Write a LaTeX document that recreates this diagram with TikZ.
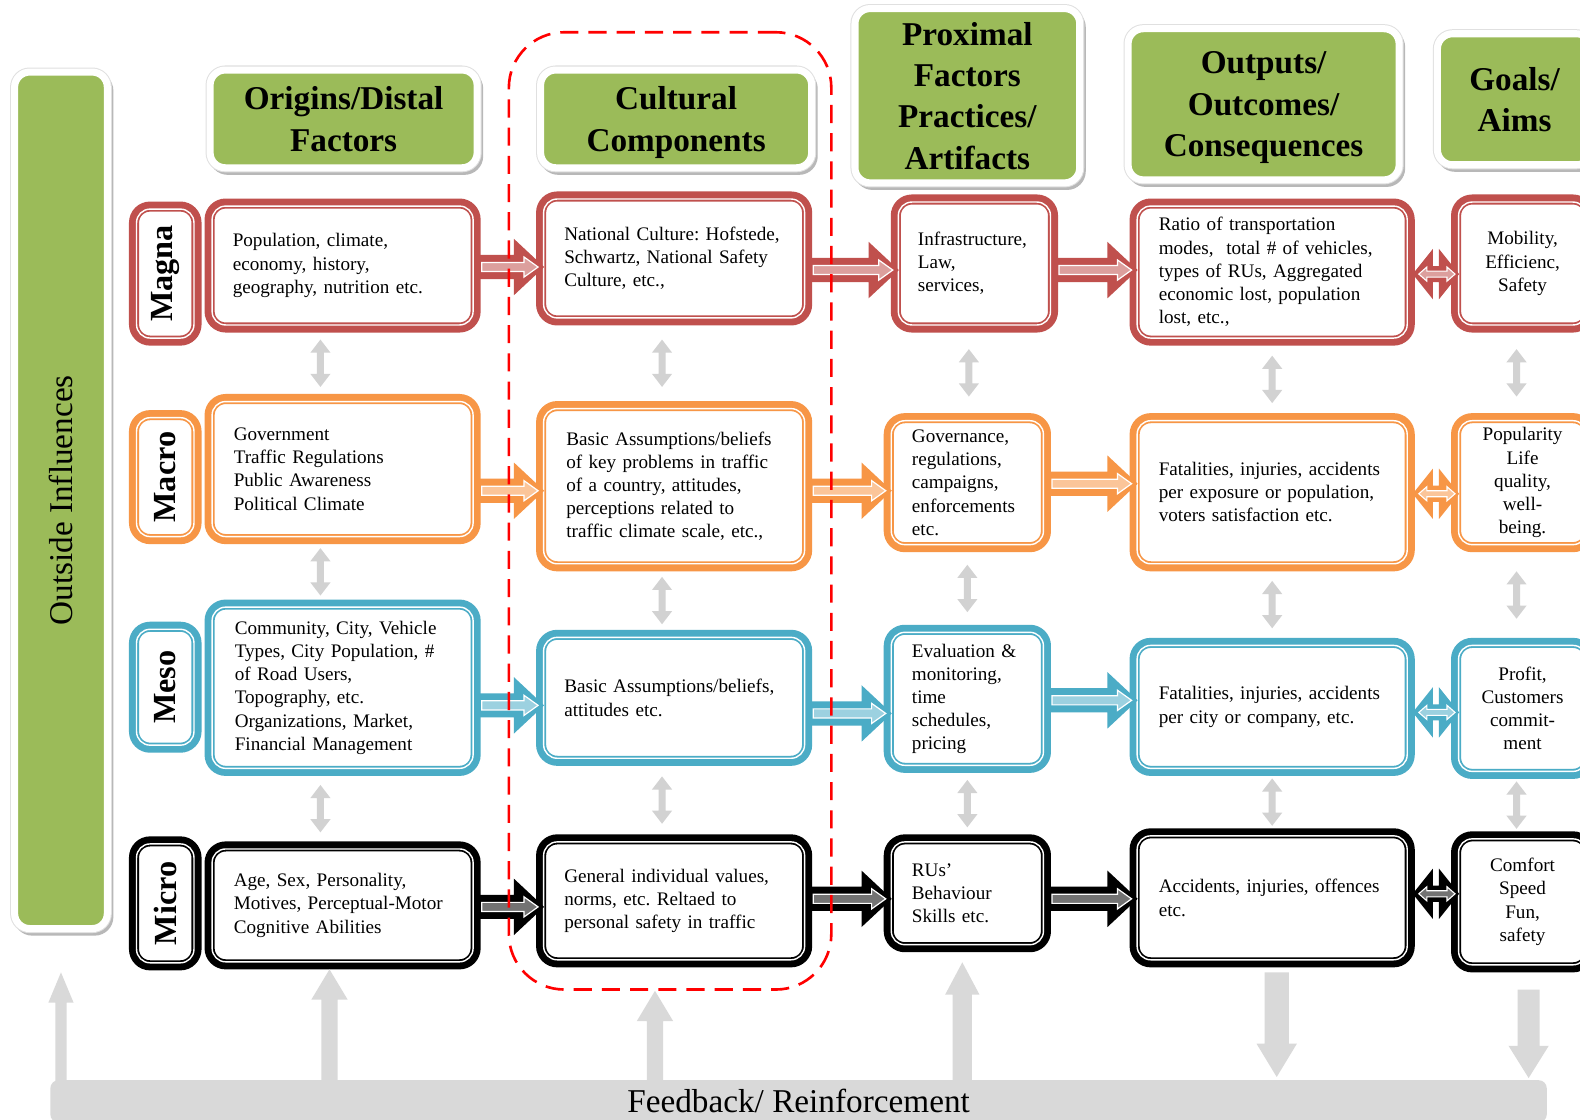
\documentclass[tikz,border=0pt]{standalone}
\usepackage{fontspec}
\usepackage{graphicx}
\setmainfont{Liberation Serif}
\usetikzlibrary{calc}
\frenchspacing

\definecolor{cred}{HTML}{C0504D}
\definecolor{corange}{HTML}{F79646}
\definecolor{cblue}{HTML}{4BACC6}
\definecolor{hgreen}{HTML}{9BBB59}
\definecolor{lgrey}{HTML}{D2D2D2}
\definecolor{fbgrey}{HTML}{D9D9D9}

\newcommand\cellfont{\fontsize{19}{23}\selectfont\frenchspacing}
\newcommand\headerfont{\fontsize{33}{41}\selectfont\bfseries}
\newcommand\levelfont{\fontsize{32}{36}\selectfont\bfseries}
\newcommand\bigtextfont{\fontsize{33}{38}\selectfont}

% framed cell: thick coloured band split by a thin white line
\newcommand\cell[7]{%
  \node[cellbox, #2, minimum width={#5-#3-10}, minimum height={#6-#4-10}] (#1)
    at ({(#3+#5)/2},{(#4+#6)/2}) {#7};
  \draw[white, line width=1.4pt, rounded corners=13.5pt]
    ($(#1.south west)+(7.5,-7.5)$) rectangle ($(#1.north east)+(-7.5,7.5)$);
}
% green column header
\newcommand\header[6]{%
  \node[headbox, minimum width={#4-#2+7}, minimum height={#5-#3+7}] (#1)
    at ({(#2+#4)/2},{(#3+#5)/2}) {#6};
}
% block arrow between two cells of a row (colour, from, to, drop)
\newcommand\flowarrow[4]{%
  \fill[#1] let \p1=($(#2)+(0,#4)$), \p2=(#3) in
    ({\x1-4pt},{\y1+12pt}) -- ({\x2-22pt},{\y1+12pt}) -- ({\x2-22pt},{\y1+28pt})
    -- ({\x2+8pt},\y1) -- ({\x2-22pt},{\y1-28pt}) -- ({\x2-22pt},{\y1-12pt})
    -- ({\x1-4pt},{\y1-12pt}) -- cycle;
  \draw[white, line width=1.2pt, fill=#1!55!white, line join=miter]
    let \p1=($(#2)+(0,#4)$), \p2=(#3) in
    ({\x1+1pt},{\y1+4.5pt}) -- ({\x2-12pt},{\y1+4.5pt}) -- ({\x2-12pt},{\y1+10pt})
    -- ({\x2+2pt},\y1) -- ({\x2-12pt},{\y1-10pt}) -- ({\x2-12pt},{\y1-4.5pt})
    -- ({\x1+1pt},{\y1-4.5pt}) -- cycle;
}
% two-headed block arrow (colour, from, to, drop)
\newcommand\linkarrow[4]{%
  \fill[#1] let \p1=($(#2)+(0,#4)$), \p2=(#3) in
    ({\x1-2pt},\y1) -- ({\x1+18pt},{\y1+25pt}) -- ({\x1+18pt},{\y1+8pt})
    -- ({\x2-12pt},{\y1+8pt}) -- ({\x2-12pt},{\y1+25pt}) -- ({\x2+8pt},\y1)
    -- ({\x2-12pt},{\y1-25pt}) -- ({\x2-12pt},{\y1-8pt}) -- ({\x1+18pt},{\y1-8pt})
    -- ({\x1+18pt},{\y1-25pt}) -- cycle;
  \draw[white, line width=1.1pt, fill=#1!55!white, line join=miter]
    let \p1=($(#2)+(0,#4)$), \p2=(#3) in
    ({\x1+4pt},\y1) -- ({\x1+12pt},{\y1+7pt}) -- ({\x1+12pt},{\y1+3pt})
    -- ({\x2-4pt},{\y1+3pt}) -- ({\x2-4pt},{\y1+7pt}) -- ({\x2+4pt},\y1)
    -- ({\x2-4pt},{\y1-7pt}) -- ({\x2-4pt},{\y1-3pt}) -- ({\x1+12pt},{\y1-3pt})
    -- ({\x1+12pt},{\y1-7pt}) -- cycle;
}
% grey two-headed arrow between rows (upper, lower, dx)
\newcommand\vlink[3]{%
  \fill[lgrey] let \p1=($(#1.south)!0.5!(#2.north)+(#3,0)$) in
    (\x1,{\y1+23.5pt}) -- ({\x1+10pt},{\y1+10.5pt}) -- ({\x1+3.5pt},{\y1+10.5pt})
    -- ({\x1+3.5pt},{\y1-10.5pt}) -- ({\x1+10pt},{\y1-10.5pt}) -- (\x1,{\y1-23.5pt})
    -- ({\x1-10pt},{\y1-10.5pt}) -- ({\x1-3.5pt},{\y1-10.5pt}) -- ({\x1-3.5pt},{\y1+10.5pt})
    -- ({\x1-10pt},{\y1+10.5pt}) -- cycle;
}
% grey feedback arrow (from, tip, shaft half width, head half width, signed head length)
\newcommand\garrow[5]{%
  \fill[fbgrey] let \p1=#1, \p2=#2 in
    ({\x1-#3},\y1) -- ({\x1-#3},{\y2-(#5)}) -- ({\x1-#4},{\y2-(#5)}) -- (\x1,\y2)
    -- ({\x1+#4},{\y2-(#5)}) -- ({\x1+#3},{\y2-(#5)}) -- ({\x1+#3},\y1) -- cycle;
}

\begin{document}
\begin{tikzpicture}[x=1pt, y=-1pt,
  cellbox/.style={line width=10pt, rounded corners=16pt, fill=white, inner sep=0pt,
    font=\cellfont, align=left},
  headbox/.style={fill=hgreen, draw=white, line width=7pt, rounded corners=15pt,
    inner sep=0pt, align=center, font=\headerfont, text depth=0pt,
    preaction={draw=black!28, fill=black!28, line width=7pt,
      transform canvas={xshift=2.5pt, yshift=-3.5pt}},
    preaction={draw=black!12, line width=9pt}},
  level/.style={align=center}]

\useasboundingbox (0,0) rectangle (1568,1111);
\fill[white] (0,0) rectangle (1568,1111);

% column headers
\header{hO}{212}{73}{470}{163}{Origins/Distal\\Factors}
\header{hC}{540}{73}{802}{163}{Cultural\\Components}
\header{hP}{852}{12}{1068}{178}{Proximal\\Factors\\Practices/\\Artifacts}
\header{hU}{1123}{32}{1385}{175}{Outputs/\\Outcomes/\\Consequences}
\header{hG}{1430}{37}{1576}{160}{Goals/\\Aims}

% side bar
\node[headbox, font=\bigtextfont, text depth=, minimum width=92, minimum height=850] (oi)
  at (60.5,496.5) {\rotatebox{90}{Outside Influences}};

% Magna
\cell{l1}{draw=cred, level}{128}{200}{200}{343}{\rotatebox{90}{\levelfont Magna}}
\cell{o1}{draw=cred, text width=218pt}{203}{197}{477}{330}{Population, climate,\\ economy, history,\\ geography, nutrition etc.}
\cell{c1}{draw=cred, text width=218pt}{532}{190}{806}{323}{National Culture: Hofstede,\\ Schwartz, National Safety\\ Culture, etc.,}
\cell{p1}{draw=cred, text width=112pt}{884}{193}{1050}{330}{Infrastructure,\\ Law,\\ services,}
\cell{u1}{draw=cred, text width=225pt}{1121}{197}{1404}{343}{Ratio of transportation\\ modes,~ total \# of vehicles,\\ types of RUs, Aggregated\\ economic lost, population\\ lost, etc.,}
\cell{g1}{draw=cred, text width=110pt, align=center}{1440}{193}{1582}{330}{Mobility,\\ Efficienc,\\ Safety}

% Macro
\cell{l2}{draw=corange, level}{128}{407}{200}{540}{\rotatebox{90}{\levelfont Macro}}
\cell{o2}{draw=corange, text width=216pt}{203}{391}{477}{540}{Government\\ Traffic Regulations\\ Public Awareness\\ Political Climate}
\cell{c2}{draw=corange, text width=214pt}{532}{398}{806}{567}{Basic Assumptions/beliefs\\ of key problems in traffic\\ of a country, attitudes,\\ perceptions related to\\ traffic climate scale, etc.,}
\cell{p2}{draw=corange, text width=110pt}{877}{410}{1043}{548}{Governance,\\ regulations,\\ campaigns,\\ enforcements\\ etc.}
\cell{u2}{draw=corange, text width=225pt}{1121}{410}{1404}{567}{Fatalities, injuries, accidents\\ per exposure or population,\\ voters satisfaction etc.}
\cell{g2}{draw=corange, text width=110pt, align=center}{1440}{410}{1582}{548}{Popularity\\ Life\\ quality,\\ well-\\ being.}

% Meso
\cell{l3}{draw=cblue, level}{128}{617}{200}{747}{\rotatebox{90}{\levelfont Meso}}
\cell{o3}{draw=cblue, text width=214pt}{203}{595}{477}{770}{Community, City, Vehicle\\ Types, City Population, \#\\ of Road Users,\\ Topography, etc.\\ Organizations, Market,\\ Financial Management}
\cell{c3}{draw=cblue, text width=218pt}{532}{625}{806}{760}{Basic Assumptions/beliefs,\\ attitudes etc.}
\cell{p3}{draw=cblue, text width=110pt}{877}{620}{1043}{767}{Evaluation \&\\ monitoring,\\ time\\ schedules,\\ pricing}
\cell{u3}{draw=cblue, text width=225pt}{1121}{633}{1404}{770}{Fatalities, injuries, accidents\\ per city or company, etc.}
\cell{g3}{draw=cblue, text width=110pt, align=center}{1440}{633}{1582}{773}{Profit,\\ Customers\\ commit-\\ ment}

% Micro
\cell{l4}{draw=black, level}{128}{830}{200}{963}{\rotatebox{90}{\levelfont Micro}}
\cell{o4}{draw=black, text width=216pt}{203}{835}{477}{962}{Age, Sex, Personality,\\ Motives, Perceptual-Motor\\ Cognitive Abilities}
\cell{c4}{draw=black, text width=218pt}{532}{828}{806}{960}{General individual values,\\ norms, etc. Reltaed to\\ personal safety in traffic}
\cell{p4}{draw=black, text width=110pt}{877}{828}{1043}{945}{RUs’\\ Behaviour\\ Skills etc.}
\cell{u4}{draw=black, text width=225pt}{1121}{822}{1404}{960}{Accidents, injuries, offences\\ etc.}
\cell{g4}{draw=black, text width=110pt, align=center}{1440}{825}{1582}{965}{Comfort\\ Speed\\ Fun,\\ safety}

% links between rows
\foreach \a/\b in {o1/o2,o2/o3,o3/o4} {\vlink{\a}{\b}{-22}}
\foreach \a/\b in {c1/c2,c2/c3,c3/c4} {\vlink{\a}{\b}{-12}}
\vlink{p1}{p2}{-2}
\foreach \a/\b in {p2/p3,p3/p4} {\vlink{\a}{\b}{0}}
\foreach \a/\b in {u1/u2,u2/u3,u3/u4} {\vlink{\a}{\b}{0}}
\foreach \a/\b in {g1/g2,g2/g3,g3/g4} {\vlink{\a}{\b}{-6}}

% flows along each row
\flowarrow{cred}{o1.east}{c1.west}{1.5}
\flowarrow{cred}{c1.east}{p1.west}{11.5}
\flowarrow{cred}{p1.east}{u1.west}{6.5}
\linkarrow{cred}{u1.east}{g1.west}{2}

\flowarrow{corange}{o2.east}{c2.west}{21.5}
\flowarrow{corange}{c2.east}{p2.west}{4.5}
\flowarrow{corange}{p2.east}{u2.west}{1}
\linkarrow{corange}{u2.east}{g2.west}{1.5}

\flowarrow{cblue}{o3.east}{c3.west}{17.5}
\flowarrow{cblue}{c3.east}{p3.west}{15.5}
\flowarrow{cblue}{p3.east}{u3.west}{1.5}
\linkarrow{cblue}{u3.east}{g3.west}{5.5}

\flowarrow{black}{o4.east}{c4.west}{1.5}
\flowarrow{black}{c4.east}{p4.west}{-2}
\flowarrow{black}{p4.east}{u4.west}{5.5}
\linkarrow{black}{u4.east}{g4.west}{-4}

% cultural components frame
\node[draw=red, line width=2.6pt, dash pattern=on 18pt off 10pt, rounded corners=55pt,
  minimum width=320, minimum height=950, inner sep=0pt] (cult) at (665,507) {};

% feedback bar and its arrows
\node[fill=fbgrey, rounded corners=8pt, minimum width=1485, minimum height=42,
  inner sep=0pt, font=\bigtextfont] (fb) at (792.5,1093) {Feedback/ Reinforcement};

\garrow{($(fb.north -| oi.south)+(0,2)$)}{($(oi.south)+(0,40)$)}{5.5pt}{12.5pt}{30pt}
\garrow{($(fb.north -| o4.south)+(-13,2)$)}{($(o4.south)+(-13,0)$)}{8pt}{18pt}{30pt}
\garrow{($(fb.north -| cult.south)+(-15,2)$)}{($(cult.south)+(-15,0)$)}{8pt}{18pt}{30pt}
\garrow{($(fb.north -| p4.south)+(-5,2)$)}{($(p4.south)+(-5,10)$)}{9.5pt}{17pt}{32pt}
\garrow{($(u4.south)+(4.5,5)$)}{($(fb.north -| u4.south)+(4.5,-3)$)}{12pt}{20pt}{-33pt}
\garrow{($(g4.south)+(6,17)$)}{($(fb.north -| g4.south)+(6,-2)$)}{11pt}{20pt}{-32pt}

\end{tikzpicture}
\end{document}
